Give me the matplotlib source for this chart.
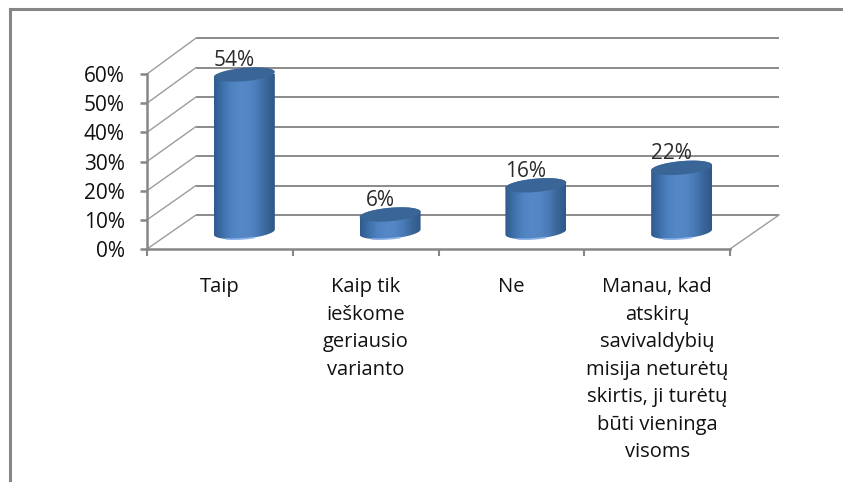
import numpy as np
import matplotlib
matplotlib.use('Agg')
import matplotlib.pyplot as plt
from matplotlib.colors import LinearSegmentedColormap
from matplotlib.lines import Line2D
from matplotlib.patches import Polygon

categories = ['Taip', 'Kaip tik\nieškome\ngeriausio\nvarianto', 'Ne',
              'Manau, kad\natskirų\nsavivaldybių\nmisija neturėtų\nskirtis, ji turėtų\nbūti vieninga\nvisoms']
values = [54, 6, 16, 22]
y_ticks = [0, 10, 20, 30, 40, 50, 60]

W, H = 843, 482
plt.rcParams['font.family'] = ['Open Sans', 'DejaVu Sans']

fig = plt.figure(figsize=(W / 100, H / 100), dpi=100)
ax = fig.add_axes([147 / W, 1 - 249 / H, 583 / W, 175 / H])
ax.patch.set_alpha(0)

# depth of the fake 3d box, in data units
dx = 0.336
dy = 11.66
back_scale = 1.011  # back wall is a bit taller than the front axis
grid_col = '#8a8a8a'

# walls
for v in y_ticks:
    back = v * back_scale + dy
    ax.plot([dx, 4 + dx], [back, back], color=grid_col, lw=1.4,
            clip_on=False, zorder=1, solid_capstyle='butt')
    ax.plot([0, dx], [v, back], color='#9c9c9c', lw=1.0, clip_on=False, zorder=1)
ax.plot([4, 4 + dx], [0, dy], color='#9c9c9c', lw=1.0, clip_on=False, zorder=1)

# cylinders
half_w = 0.209
minor = 2.3
tilt = 0.9
body_cmap = LinearSegmentedColormap.from_list(
    'body', ['#2f5a8c', '#3f70ab', '#4f82c1', '#5688c8', '#5386c4', '#4a7bb8', '#3a6699', '#2f5888'])


def ellipse(cx, cy, t):
    return cx + half_w * np.cos(t), cy + minor * np.sin(t) + tilt * np.cos(t)


for i, v in enumerate(values):
    cx = i + 0.5 + dx / 2
    base = dy / 2
    top = v + dy / 2
    low = np.linspace(np.pi, 2 * np.pi, 60)
    up = np.linspace(0, np.pi, 60)
    bx, by = ellipse(cx, base, low)
    tx, ty = ellipse(cx, top, up)
    body = Polygon(np.column_stack([np.r_[bx, tx], np.r_[by, ty]]), closed=True,
                   transform=ax.transData, fc='none', ec='none')
    ax.add_patch(body)
    im = ax.imshow(np.linspace(0, 1, 128).reshape(1, -1), cmap=body_cmap, aspect='auto',
                   extent=[cx - half_w, cx + half_w, 0, 70], zorder=3, interpolation='bilinear')
    im.set_clip_path(body)
    lx, ly = ellipse(cx, base, np.linspace(1.3 * np.pi, 1.6 * np.pi, 20))
    ax.plot(lx, ly, color='#8fb3e6', lw=1.2, zorder=4, clip_on=False)
    ex, ey = ellipse(cx, top, np.linspace(0, 2 * np.pi, 120))
    ax.fill(ex, ey, color='#3a6597', zorder=4, clip_on=False, lw=0)
    ax.annotate(f'{v}%', (cx, top), xytext=(-10, 14), textcoords='offset pixels',
                ha='center', va='center', fontsize=15, color='#2a2a2a', zorder=5,
                annotation_clip=False)

ax.set_xlim(0, 4)
ax.set_ylim(0, 60)

# axes
for side in ['top', 'right']:
    ax.spines[side].set_visible(False)
for side in ['left', 'bottom']:
    ax.spines[side].set_color('#868686')
    ax.spines[side].set_linewidth(1.8)
ax.set_yticks(y_ticks, [f'{v}%' for v in y_ticks], fontsize=15, color='#111111')
ax.tick_params(axis='y', length=5, width=1.8, color='#868686', pad=11)
ax.set_xticks([0, 1, 2, 3, 4], [''] * 5)
ax.tick_params(axis='x', which='major', length=5, width=1.5, color='#868686')
ax.set_xticks([0.5, 1.5, 2.5, 3.5], categories, minor=True, fontsize=14.5, color='#111111',
              linespacing=1.5, ha='center', va='top')
ax.tick_params(axis='x', which='minor', length=0, pad=20.5)

# outer frame, only top and left show
fig.add_artist(Line2D([9.5 / W, 9.5 / W, 1], [0, 1 - 9 / H, 1 - 9 / H], color='#868686', lw=2.2,
                      solid_joinstyle='miter'))

fig.savefig('out.png', dpi=100)
